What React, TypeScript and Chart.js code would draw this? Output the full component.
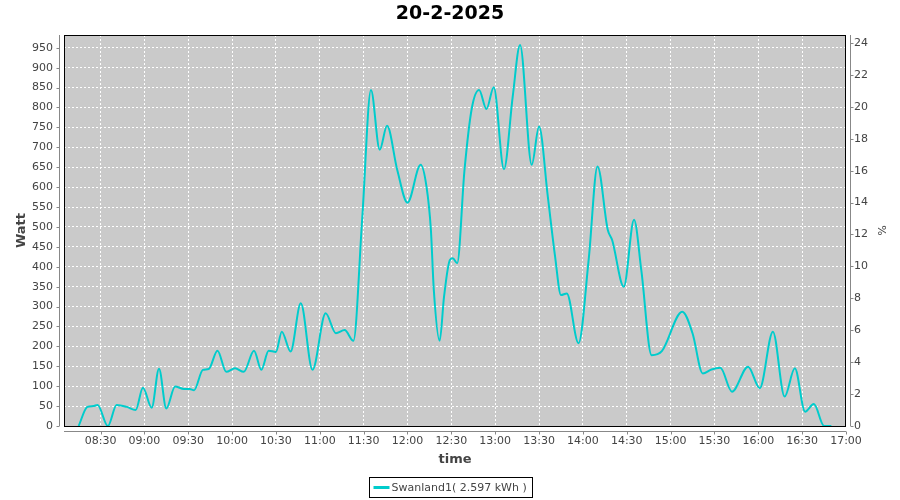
import { useEffect, useRef } from "react";
import { Chart, registerables } from "chart.js";

Chart.register(...registerables);

// ---- data ----
const chartTitle = "20-2-2025";
const seriesLabel = "Swanland1( 2.597 kWh )";
const yTitle = "Watt";
const y2Title = "%";
const xTitle = "time";

// sample times in minutes after midnight
const times = [
  495, 501, 505, 508, 515, 521, 528, 534, 539, 545, 550, 555, 561, 567, 571, 574,
  580, 584, 590, 596, 602, 608, 615, 620, 625, 630, 634, 640, 647, 655, 664, 671,
  677, 683, 689, 695, 701, 706, 713, 720, 729, 733, 736, 738, 742, 745, 749, 751,
  754, 759, 764, 769, 774, 779, 786, 792, 797, 805, 810, 816, 821, 825, 829, 837,
  844, 850, 857, 860, 868, 875, 880, 887, 894, 908, 915, 922, 928, 934, 942, 953,
  961, 970, 978, 985, 992, 998, 1005, 1010,
];
// power in W
const watts = [
  0, 48, 50, 53, 0, 53, 48, 40, 96, 46, 144, 44, 99, 93, 93, 90,
  141, 143, 189, 136, 145, 136, 189, 141, 189, 186, 237, 187, 308, 141, 283, 233,
  241, 214, 520, 844, 694, 754, 643, 561, 656, 601, 493, 342, 214, 325, 417, 421,
  409, 643, 798, 844, 796, 851, 645, 828, 957, 656, 752, 576, 425, 329, 333, 208,
  420, 652, 493, 467, 350, 518, 390, 178, 188, 287, 233, 132, 142, 146, 86, 149,
  95, 237, 74, 145, 36, 55, 0, 0,
];

const xMin = 485; // 08:05
const xMax = 1020; // 17:00
const xStep = 30;
const yMax = 982;
const yStep = 50;
const y2Max = 24.5;
const y2Step = 2;

const LINE_COLOR = "rgb(0,204,204)";
const TEXT_COLOR = "#444444";
const AXIS_COLOR = "#888888";

function fmtTime(v: number): string {
  const h = Math.floor(v / 60);
  const m = Math.round(v - h * 60);
  return String(h).padStart(2, "0") + ":" + String(m).padStart(2, "0");
}

const decor = {
  id: "decor",
  beforeDraw(chart: any) {
    const { ctx, chartArea: a } = chart;
    ctx.save();
    ctx.fillStyle = "#cacaca";
    ctx.fillRect(a.left, a.top, a.right - a.left, a.bottom - a.top);
    ctx.restore();
  },
  afterDraw(chart: any) {
    const { ctx, chartArea: a, scales } = chart;
    ctx.save();
    // plot border
    ctx.strokeStyle = "#000";
    ctx.lineWidth = 1;
    ctx.strokeRect(Math.round(a.left) + 0.5, Math.round(a.top) + 0.5, Math.round(a.right - a.left) - 1, Math.round(a.bottom - a.top));

    // offset axis lines + tick marks
    ctx.strokeStyle = AXIS_COLOR;
    ctx.beginPath();
    const lx = Math.round(a.left) - 5 + 0.5;
    ctx.moveTo(lx, a.top);
    ctx.lineTo(lx, a.bottom);
    for (const t of scales.y.ticks) {
      const py = Math.round(scales.y.getPixelForValue(t.value)) + 0.5;
      ctx.moveTo(lx - 3, py);
      ctx.lineTo(lx, py);
    }
    const rx = Math.round(a.right) + 4 + 0.5;
    ctx.moveTo(rx, a.top);
    ctx.lineTo(rx, a.bottom);
    for (const t of scales.y2.ticks) {
      const py = Math.round(scales.y2.getPixelForValue(t.value)) + 0.5;
      ctx.moveTo(rx, py);
      ctx.lineTo(rx + 3, py);
    }
    const by = Math.round(a.bottom) + 5 + 0.5;
    ctx.moveTo(a.left, by);
    ctx.lineTo(a.right, by);
    for (const t of scales.x.ticks) {
      const px = Math.round(scales.x.getPixelForValue(t.value)) + 0.5;
      ctx.moveTo(px, by);
      ctx.lineTo(px, by + 3);
    }
    ctx.stroke();

    // title
    ctx.fillStyle = "#000";
    ctx.font = "bold 19px 'DejaVu Sans'";
    ctx.textAlign = "center";
    ctx.textBaseline = "middle";
    ctx.fillText(chartTitle, 450, 14);

    // legend
    ctx.font = "11px 'DejaVu Sans'";
    const tw = ctx.measureText(seriesLabel).width;
    const boxW = Math.round(tw + 28);
    const boxX = Math.round(450 - boxW / 2) + 0.5;
    const boxY = 477.5;
    ctx.strokeStyle = "#000";
    ctx.lineWidth = 1;
    ctx.strokeRect(boxX, boxY, boxW, 20);
    ctx.strokeStyle = LINE_COLOR;
    ctx.lineWidth = 3;
    ctx.beginPath();
    ctx.moveTo(boxX + 4, boxY + 10);
    ctx.lineTo(boxX + 20, boxY + 10);
    ctx.stroke();
    ctx.fillStyle = TEXT_COLOR;
    ctx.textAlign = "left";
    ctx.textBaseline = "middle";
    ctx.fillText(seriesLabel, boxX + 22, boxY + 10.5);
    ctx.restore();
  },
};

export default function App() {
  const ref = useRef<HTMLCanvasElement | null>(null);
  useEffect(() => {
    if (!ref.current) return;
    Chart.defaults.font.family = "'DejaVu Sans'";
    const chart = new Chart(ref.current, {
      type: "line",
      data: {
        datasets: [
          {
            label: seriesLabel,
            data: times.map((t, i) => ({ x: t, y: watts[i] })),
            borderColor: LINE_COLOR,
            backgroundColor: LINE_COLOR,
            borderWidth: 2,
            pointRadius: 0,
            fill: false,
            tension: 0.4,
            cubicInterpolationMode: "monotone",
            yAxisID: "y",
          },
        ],
      },
      options: {
        responsive: false,
        animation: false,
        devicePixelRatio: 1,
        layout: { padding: { left: 0, right: 0, top: 35, bottom: 24 } },
        plugins: { legend: { display: false }, title: { display: false }, tooltip: { enabled: false } },
        scales: {
          x: {
            type: "linear",
            position: "bottom",
            min: xMin,
            max: xMax,
            grid: { color: "#ffffff", lineWidth: 1, drawTicks: false },
            border: { display: false, dash: [2, 2] },
            ticks: {
              stepSize: xStep,
              includeBounds: false,
              color: TEXT_COLOR,
              font: { size: 11 },
              padding: 9,
              maxRotation: 0,
              autoSkip: false,
              callback: (v: any) => fmtTime(Number(v)),
            },
            title: {
              display: true,
              text: xTitle,
              color: TEXT_COLOR,
              font: { size: 13, weight: "bold" },
              padding: { top: 0, bottom: 9 },
            },
            afterFit: (s: any) => {
              s.height = 50;
            },
          },
          y: {
            type: "linear",
            position: "left",
            min: 0,
            max: yMax,
            grid: { color: "#ffffff", lineWidth: 1, drawTicks: false },
            border: { display: false, dash: [2, 2] },
            ticks: {
              stepSize: yStep,
              includeBounds: false,
              color: TEXT_COLOR,
              font: { size: 11 },
              padding: 11,
            },
            title: {
              display: true,
              text: yTitle,
              color: TEXT_COLOR,
              font: { size: 13, weight: "bold" },
              padding: { top: 14, bottom: 0 },
            },
            afterFit: (s: any) => {
              s.width = 64;
            },
          },
          y2: {
            type: "linear",
            axis: "y",
            position: "right",
            min: 0,
            max: y2Max,
            grid: { display: false, drawTicks: false },
            border: { display: false },
            ticks: {
              stepSize: y2Step,
              includeBounds: false,
              color: TEXT_COLOR,
              font: { size: 11 },
              padding: 8,
            },
            title: {
              display: true,
              text: y2Title,
              color: TEXT_COLOR,
              font: { size: 11 },
              padding: { top: 13, bottom: 0 },
            },
            afterFit: (s: any) => {
              s.width = 54;
            },
          },
        },
      },
      plugins: [decor],
    } as any);
    return () => chart.destroy();
  }, []);
  return (
    <div style={{ position: "fixed", left: 0, top: 0, width: 900, height: 500 }}>
      <canvas ref={ref} width={900} height={500} style={{ display: "block" }} />
    </div>
  );
}
